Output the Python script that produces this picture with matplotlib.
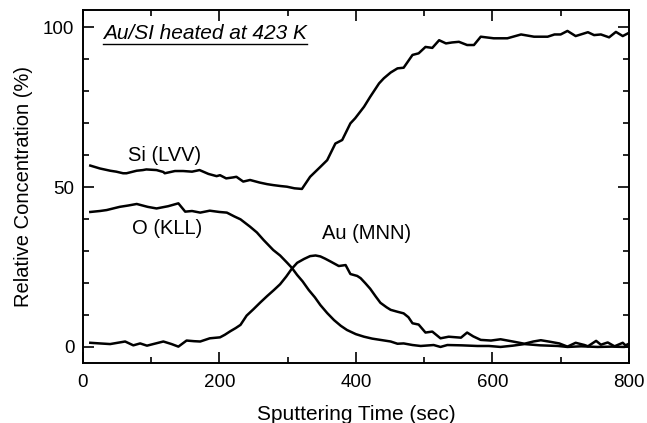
import numpy as np
import matplotlib
matplotlib.use('Agg')
import matplotlib.pyplot as plt
from matplotlib.ticker import MultipleLocator

plt.rcParams['font.family'] = ['Liberation Sans', 'DejaVu Sans']

# Si (LVV)
si_t = [11, 25, 40, 49, 59, 64, 79, 88, 93, 108, 118, 120, 135, 147, 160, 171, 184, 196, 201,
        210, 220, 225, 235, 245, 259, 270, 279, 290, 299, 310, 321, 333, 348, 358, 370, 380,
        392, 399, 412, 421, 434, 441, 451, 461, 470, 483, 492, 502, 512, 522, 532, 541, 551,
        563, 573, 583, 602, 622, 642, 661, 681, 691, 700, 710, 722, 740, 749, 759, 771, 781,
        791, 800]
si_y = [56.7, 55.8, 55.1, 54.8, 54.3, 54.3, 55.1, 55.3, 55.5, 55.3, 54.7, 54.3, 55.0, 55.0,
        54.8, 55.3, 54.1, 53.4, 53.7, 52.7, 53.0, 53.2, 51.7, 52.2, 51.4, 50.9, 50.6, 50.3,
        50.1, 49.6, 49.4, 53.2, 56.3, 58.4, 63.6, 64.7, 69.9, 71.5, 75.1, 78.2, 82.4, 84.0,
        85.8, 87.1, 87.3, 91.3, 91.8, 93.8, 93.5, 95.9, 94.9, 95.2, 95.4, 94.4, 94.4, 97.0,
        96.5, 96.5, 97.7, 97.0, 97.0, 97.7, 97.7, 98.8, 97.2, 98.4, 97.5, 97.7, 96.8, 98.5,
        97.2, 98.2]

# O (KLL)
o_t = [11, 25, 35, 54, 66, 79, 95, 108, 125, 140, 150, 160, 172, 186, 200, 211, 222, 231, 245,
       255, 265, 279, 289, 299, 306, 314, 322, 331, 340, 348, 358, 368, 378, 387, 400, 412,
       424, 436, 451, 461, 470, 483, 495, 514, 524, 534, 555, 578, 595, 612, 630, 647, 670,
       696, 710, 730, 754, 775, 793, 800]
o_y = [42.2, 42.5, 42.8, 43.8, 44.2, 44.7, 43.8, 43.3, 44.0, 44.9, 42.3, 42.5, 42.0, 42.6,
       42.2, 42.0, 40.8, 39.9, 37.6, 35.8, 33.4, 30.3, 28.6, 26.4, 24.8, 22.5, 20.5, 17.8,
       15.5, 13.1, 10.6, 8.4, 6.6, 5.3, 4.0, 3.2, 2.6, 2.2, 1.7, 1.0, 1.1, 0.6, 0.3, 0.6, 0.0,
       0.6, 0.5, 0.3, 0.3, 0.0, 0.4, 0.9, 0.5, 0.3, 0.0, 0.2, 0.0, 0.1, 0.0, 0.2]

# Au (MNN)
au_t = [11, 25, 40, 62, 74, 84, 94, 105, 118, 130, 140, 152, 163, 172, 186, 201, 208, 216,
        224, 231, 240, 250, 260, 270, 280, 289, 298, 306, 314, 324, 333, 341, 348, 355, 363,
        375, 385, 392, 402, 407, 414, 421, 429, 436, 445, 451, 461, 470, 477, 483, 492, 502,
        512, 524, 536, 554, 563, 572, 583, 598, 612, 630, 647, 660, 671, 685, 698, 710, 722,
        735, 740, 752, 759, 769, 779, 791, 795, 800]
au_y = [1.3, 1.1, 0.9, 1.7, 0.5, 1.1, 0.4, 1.0, 1.7, 0.9, 0.1, 2.0, 1.8, 1.7, 2.7, 3.0, 3.8,
        4.9, 5.9, 6.9, 9.8, 11.8, 13.9, 15.9, 17.8, 19.6, 22.0, 24.4, 26.3, 27.5, 28.4, 28.6,
        28.3, 27.6, 26.7, 25.3, 25.6, 22.8, 22.2, 21.5, 19.9, 18.2, 15.8, 13.8, 12.4, 11.6,
        11.0, 10.5, 9.3, 7.4, 7.0, 4.5, 4.8, 2.7, 3.2, 2.9, 4.5, 3.3, 2.2, 2.0, 2.4, 1.7, 1.0,
        1.7, 2.1, 1.6, 1.1, 0.1, 1.3, 0.6, 0.2, 1.9, 0.7, 1.4, 0.2, 1.3, 0.5, 1.0]

fig = plt.figure(figsize=(6.47, 4.23), dpi=100)
ax = fig.add_axes([0.128, 0.142, 0.844, 0.834])

for t, y in [(si_t, si_y), (o_t, o_y), (au_t, au_y)]:
    ax.plot(t, y, color='black', linewidth=1.8)

ax.set_xlim(0, 800)
ax.set_ylim(-5, 105.3)
ax.xaxis.set_major_locator(MultipleLocator(200))
ax.xaxis.set_minor_locator(MultipleLocator(100))
ax.yaxis.set_major_locator(MultipleLocator(50))
ax.yaxis.set_minor_locator(MultipleLocator(10))
ax.tick_params(which='both', direction='in', top=True, right=True, width=1.2, labelsize=13.5)
ax.tick_params(which='major', length=8)
ax.tick_params(which='minor', length=4)
ax.tick_params(axis='x', pad=8)
ax.tick_params(axis='y', pad=6)
for s in ax.spines.values():
    s.set_linewidth(1.4)

ax.set_xlabel('Sputtering Time (sec)', fontsize=15, labelpad=10)
ax.set_ylabel('Relative Concentration (%)', fontsize=14.5, labelpad=7)

ax.text(66, 60, 'Si (LVV)', fontsize=14.5, va='center', ha='left')
ax.text(72, 37, 'O (KLL)', fontsize=14.5, va='center', ha='left')
ax.text(351, 35.6, 'Au (MNN)', fontsize=14.5, va='center', ha='left')

title = ax.text(0.037, 0.935, 'Au/SI heated at 423 K', transform=ax.transAxes,
                fontsize=15, style='italic', va='center', ha='left')

# underline under the italic label
fig.canvas.draw()
bb = title.get_window_extent().transformed(ax.transAxes.inverted())
ax.plot([bb.x0, bb.x1], [bb.y0 - 0.004, bb.y0 - 0.004], transform=ax.transAxes,
        color='black', linewidth=1.0, clip_on=False)

fig.savefig('out.png', dpi=100)
